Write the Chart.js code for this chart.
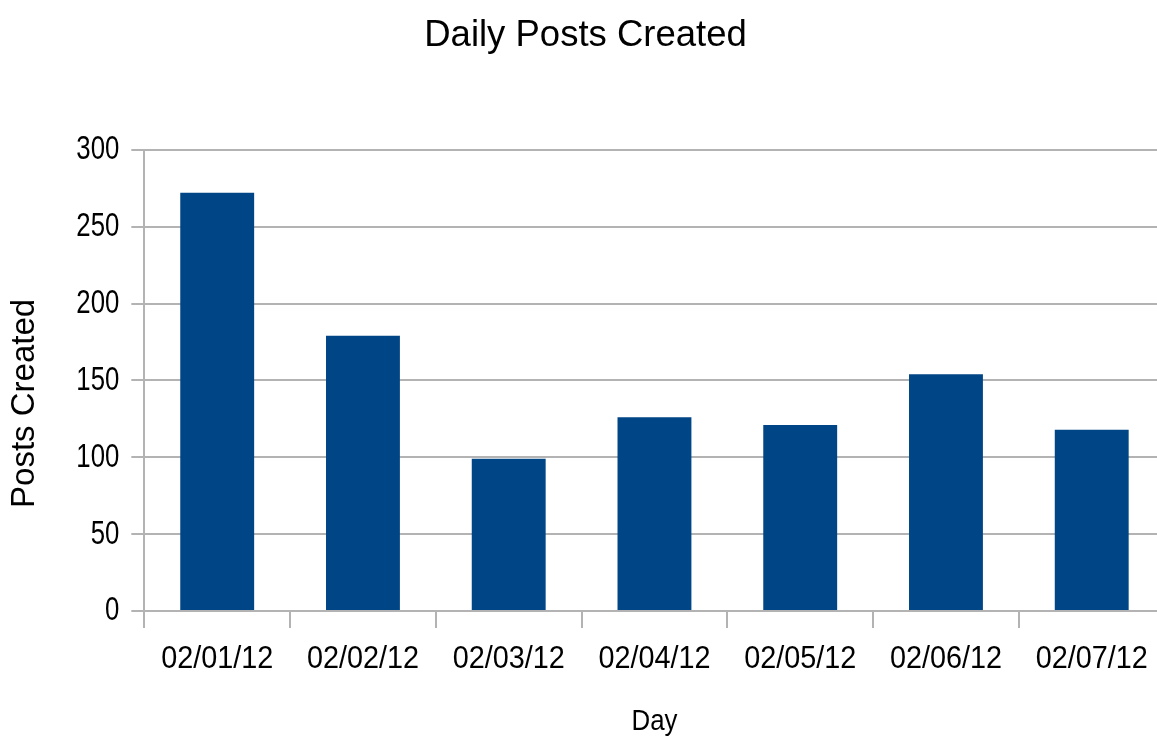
<!DOCTYPE html>
<html>
<head>
<meta charset="utf-8">
<script src="https://cdn.jsdelivr.net/npm/chart.js@4/dist/chart.umd.min.js"></script>
<style>
  html, body { margin: 0; padding: 0; background: #fff; overflow: hidden; }
  #wrap { width: 1166px; height: 741px; }
</style>
</head>
<body>
<div id="wrap"><canvas id="c" width="1166" height="741"></canvas></div>
<script>
const categories = ["02/01/12", "02/02/12", "02/03/12", "02/04/12", "02/05/12", "02/06/12", "02/07/12"];
const postsCreated = [272, 179, 99, 126, 121, 154, 118];
const yTicks = [0, 50, 100, 150, 200, 250, 300];

const family = '"Liberation Sans", Arial, sans-serif';

// Horizontal condensing of text drawn at given font sizes (the reference uses a narrow rendering)
const condenseBySize = { 34: 0.758, 32: 0.9, 30: 0.86 };
const condensePlugin = {
  id: 'condense',
  beforeInit(chart) {
    const ctx = chart.ctx;
    const orig = ctx.fillText.bind(ctx);
    ctx.fillText = function (text, x, y, maxWidth) {
      const m = /(\d+(?:\.\d+)?)px/.exec(ctx.font);
      const sx = m ? condenseBySize[Math.round(parseFloat(m[1]))] : undefined;
      if (!sx) { return maxWidth === undefined ? orig(text, x, y) : orig(text, x, y, maxWidth); }
      ctx.save();
      ctx.translate(x, y);
      ctx.scale(sx, 1);
      if (maxWidth === undefined) orig(text, 0, 0); else orig(text, 0, 0, maxWidth / sx);
      ctx.restore();
    };
  }
};

new Chart(document.getElementById('c'), {
  type: 'bar',
  plugins: [condensePlugin],
  data: {
    labels: categories,
    datasets: [{
      label: 'Posts Created',
      data: postsCreated,
      backgroundColor: '#004586',
      borderWidth: 0,
      categoryPercentage: 1.0,
      barPercentage: 0.507
    }]
  },
  options: {
    responsive: false,
    animation: false,
    devicePixelRatio: 1,
    layout: { padding: { left: 5, right: 0, top: 0, bottom: 0 } },
    plugins: {
      legend: { display: false },
      tooltip: { enabled: false },
      title: {
        display: true,
        text: 'Daily Posts Created',
        color: '#000',
        font: { family: family, size: 36.5, weight: 'normal' },
        padding: { top: 14, bottom: 92 }
      }
    },
    scales: {
      x: {
        offset: true,
        grid: {
          offset: true,
          drawOnChartArea: false,
          drawTicks: true,
          tickLength: 17,
          color: '#b3b3b3',
          lineWidth: 2
        },
        border: { display: true, color: '#b3b3b3', width: 2 },
        ticks: {
          color: '#000',
          padding: 12,
          maxRotation: 0,
          autoSkip: false,
          font: { family: family, size: 32 }
        },
        title: {
          display: true,
          text: 'Day',
          color: '#000',
          font: { family: family, size: 30 },
          padding: { top: 13.5, bottom: 1 }
        }
      },
      y: {
        min: 0,
        max: 300,
        afterBuildTicks: (axis) => { axis.ticks = yTicks.map(v => ({ value: v })); },
        grid: {
          color: '#b3b3b3',
          lineWidth: 2,
          drawTicks: true,
          tickLength: 13
        },
        border: { display: true, color: '#b3b3b3', width: 2 },
        ticks: {
          color: '#000',
          padding: 12,
          font: { family: family, size: 34 }
        },
        title: {
          display: true,
          text: 'Posts Created\u00A0\u00A0\u00A0\u00A0\u00A0',
          color: '#000',
          font: { family: family, size: 33 },
          padding: { top: 0, bottom: 6 }
        }
      }
    }
  }
});
</script>
</body>
</html>
